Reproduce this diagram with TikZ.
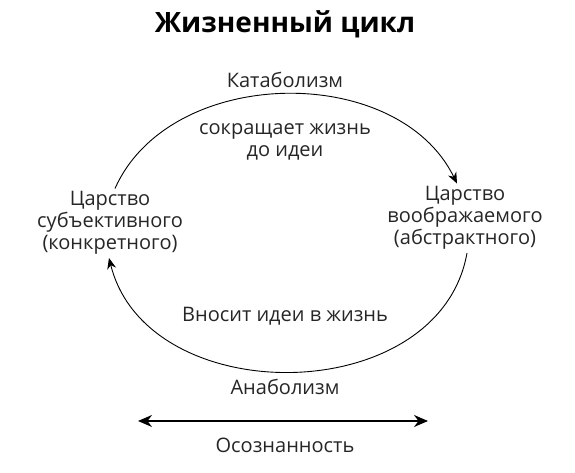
\documentclass[tikz,border=0pt]{standalone}
\usepackage{fontspec}
\setmainfont{Open Sans}
\usetikzlibrary{arrows.meta}

\begin{document}
\begin{tikzpicture}[x=1pt,y=1pt,
    lbl/.style={font=\fontsize{20}{22}\selectfont, text=black!85, inner sep=3pt},
    realm/.style={lbl, align=center},
    cyc/.style={-{Stealth[length=11pt,width=9pt]}, line width=0.9pt},
    aware/.style={{Stealth[length=14pt,width=12pt]}-{Stealth[length=14pt,width=12pt]}, line width=1.8pt}]
    \useasboundingbox (0,0) rectangle (575,473);
    \node[font=\fontsize{28}{32}\selectfont\bfseries, anchor=base] (title) at (285,440) {Жизненный цикл};
    \node[lbl, anchor=base] (kat) at (285,385) {Катаболизм};
    \node[realm, anchor=base] (cut) at (285,316) {сокращает жизнь\\до идеи};
    \node[realm, anchor=base] (subj) at (110,223) {Царство\\субъективного\\(конкретного)};
    \node[realm, anchor=base] (imag) at (465,228) {Царство\\воображаемого\\(абстрактного)};
    \node[lbl, anchor=base] (bring) at (285,151) {Вносит идеи в жизнь};
    \node[lbl, anchor=base] (ana) at (285,78) {Анаболизм};
    \node[lbl, anchor=base] (mind) at (285,20) {Осознанность};
    \draw[cyc] ([xshift=5pt]subj.north) to[out=66,in=116,looseness=1.01] ([xshift=-8pt]imag.north);
    \draw[cyc] ([xshift=2pt]imag.south) to[out=-100,in=-76,looseness=1.13] ([xshift=-1pt]subj.south);
    % awareness axis
    \coordinate (awl) at (138,52);
    \coordinate (awr) at (428,52);
    \draw[aware] (awl) -- (awr);
\end{tikzpicture}
\end{document}
